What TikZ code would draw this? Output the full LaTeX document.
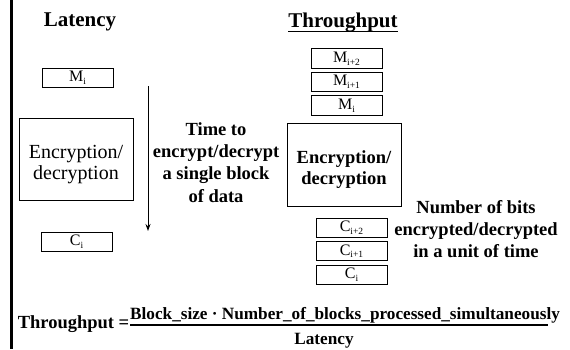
\documentclass[tikz,border=0pt]{standalone}
\usepackage{fontspec}
\setmainfont{Liberation Serif}
\usetikzlibrary{arrows.meta}
% lowered small index for the block labels
\newcommand{\blkidx}[1]{\raisebox{-2.6pt}{\fontsize{9.5}{10}\selectfont #1}}
\tikzset{
  blockbox/.style={draw, line width=1pt, inner sep=0pt, minimum width=71pt,
    minimum height=19.5pt, font=\fontsize{16}{17}\selectfont},
  cipherbox/.style={draw, line width=1pt, inner sep=0pt, minimum width=114pt,
    minimum height=82.5pt},
  boxtext/.style={inner sep=0pt, align=center},
  heading/.style={inner sep=0pt, anchor=base, font=\fontsize{21}{24}\selectfont\bfseries},
  note/.style={inner sep=0pt, align=center, font=\fontsize{18.5}{22.3}\selectfont\bfseries},
  eqtext/.style={inner sep=0pt, font=\fontsize{17.2}{20}\selectfont\bfseries}
}
\begin{document}
\begin{tikzpicture}[x=1pt,y=-1pt]
\useasboundingbox (0,0) rectangle (570,349);
% left rule
\draw[line width=2.5pt] (11.5,0) -- (11.5,349);

% latency column
\node[heading] (lathead) at (80,26.7) {Latency};
\node[blockbox] (lm) at (77.5,78) {M\blkidx{i}};
\node[cipherbox] (lenc) at (76,159.5) {};
\node[boxtext, font=\fontsize{20}{21.7}\selectfont] (lenctxt) at (76,164.5) {Encryption/\\decryption};
\node[blockbox, minimum height=19pt] (lc) at (76.5,241.5) {C\blkidx{i}};
\coordinate (tstart) at (148,86);
\coordinate (tend) at (148,231);
\draw[line width=0.9pt, -{Stealth[length=7pt,width=5pt]}] (tstart) -- (tend);
\node[note] (timetxt) at (216,162.5) {Time to\\encrypt/decrypt\\a single block\\of data};

% throughput column
\node[heading] (thrhead) at (343,27.7) {Throughput};
\draw[line width=1.3pt] (thrhead.south west |- 0,31.7) -- (thrhead.south east |- 0,31.7);
\node[blockbox] (rm2) at (346.5,58.5) {M\blkidx{i+2}};
\node[blockbox] (rm1) at (346.5,82) {M\blkidx{i+1}};
\node[blockbox] (rm0) at (346.5,105.5) {M\blkidx{i}};
\node[cipherbox] (renc) at (344,165) {};
\node[boxtext, font=\fontsize{18.5}{20.7}\selectfont\bfseries] (renctxt) at (344,169.5) {Encryption/\\decryption};
\node[blockbox, minimum height=19pt] (rc2) at (351.5,227.5) {C\blkidx{i+2}};
\node[blockbox, minimum height=19pt] (rc1) at (351.5,251) {C\blkidx{i+1}};
\node[blockbox, minimum height=19pt] (rc0) at (351.5,274.5) {C\blkidx{i}};
\node[note] (bitstxt) at (476,229) {Number of bits\\encrypted/decrypted\\in a unit of time};

% throughput formula
\node[eqtext, anchor=base east, font=\fontsize{18.5}{20}\selectfont\bfseries] (lhs) at (129.5,328) {Throughput =};
\node[eqtext, anchor=base west] (numer) at (130,319) {Block\_size · Number\_of\_blocks\_processed\_simultaneously};
\node[eqtext, anchor=base] (denom) at (324,344) {Latency};
\coordinate (barL) at (130,325);
\coordinate (barR) at (548,325);
\draw[line width=1.2pt] (barL) -- (barR);
\end{tikzpicture}
\end{document}
